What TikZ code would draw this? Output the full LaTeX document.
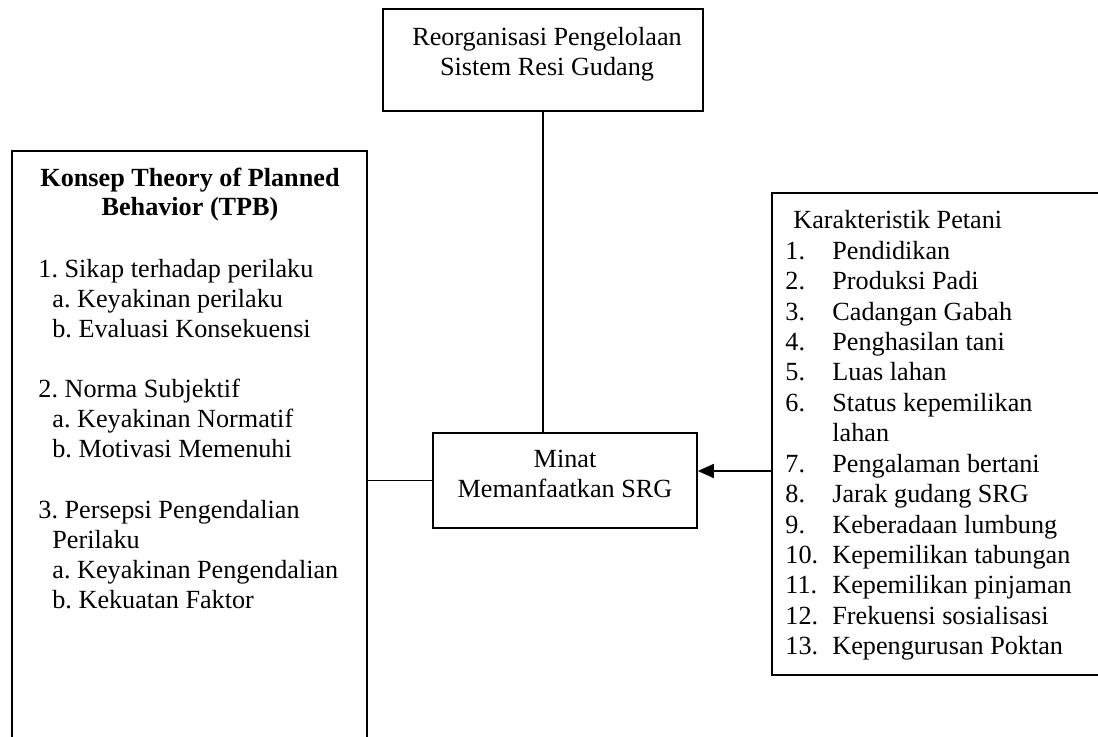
\documentclass[tikz,border=0pt]{standalone}
\usepackage{fontspec}
\setmainfont{Liberation Serif}
\usetikzlibrary{arrows.meta}
\frenchspacing
\begin{document}
\begin{tikzpicture}[x=0.5pt,y=-0.5pt,
  box/.style={draw,line width=0.85pt,rectangle,inner sep=0pt},
  txt/.style={inner sep=0pt,anchor=base west,font=\fontsize{13.1pt}{15.2pt}\selectfont},
  ctxt/.style={inner sep=0pt,anchor=base,font=\fontsize{13.1pt}{15.2pt}\selectfont},
  btxt/.style={inner sep=0pt,anchor=base,font=\fontsize{13.1pt}{15.2pt}\selectfont\bfseries},
  conn/.style={line width=0.85pt},
  arr/.style={line width=0.85pt,-{Triangle[length=8pt,width=7pt]}}]
\useasboundingbox (0,0) rectangle (1098,737);
\clip (0,0) rectangle (1098,737);
% boxes
\node[box,minimum width=160pt,minimum height=51pt] (top) at (543,60) {};
\node[box,minimum width=177.5pt,minimum height=309.5pt] (left) at (189.5,460.5) {};
\node[box,minimum width=132pt,minimum height=47.5pt] (mid) at (565,480.5) {};
\node[box,minimum width=174pt,minimum height=241pt] (right) at (946,434) {};
% top box text
\node[ctxt] (t1) at (547,46) {Reorganisasi Pengelolaan};
\node[ctxt] (t2) at (547,76) {Sistem Resi Gudang};
% middle box text
\node[ctxt] (m1) at (565,468) {Minat};
\node[ctxt] (m2) at (565,498) {Memanfaatkan SRG};
% left box text
\node[btxt] (l0) at (190,187) {Konsep Theory of Planned};
\node[btxt] (l00) at (190,216) {Behavior (TPB)};
\node[txt] (l1) at (38,278) {1. Sikap terhadap perilaku};
\node[txt] (l1a) at (52,308) {a. Keyakinan perilaku};
\node[txt] (l1b) at (52,338) {b. Evaluasi Konsekuensi};
\node[txt] (l2) at (38,398) {2. Norma Subjektif};
\node[txt] (l2a) at (52,428) {a. Keyakinan Normatif};
\node[txt] (l2b) at (52,458) {b. Motivasi Memenuhi};
\node[txt] (l3) at (38,518) {3. Persepsi Pengendalian};
\node[txt] (l3x) at (52,548) {Perilaku};
\node[txt] (l3a) at (52,578) {a. Keyakinan Pengendalian};
\node[txt] (l3b) at (52,608) {b. Kekuatan Faktor};
% right box text
\node[txt] (r0) at (793,229) {Karakteristik Petani};
\foreach \n/\t [count=\i from 1] in {1./Pendidikan,2./Produksi Padi,3./Cadangan Gabah,4./Penghasilan tani,5./Luas lahan,6./Status kepemilikan}{
  \node[txt] (rn\i) at (785,{229+30.4*\i}) {\n};
  \node[txt] (rt\i) at (832,{229+30.4*\i}) {\t};
}
\node[txt] (rlahan) at (832,{229+30.4*7}) {lahan};
\foreach \n/\t [count=\i from 8] in {7./Pengalaman bertani,8./Jarak gudang SRG,9./Keberadaan lumbung,10./Kepemilikan tabungan,11./Kepemilikan pinjaman,12./Frekuensi sosialisasi,13./Kepengurusan Poktan}{
  \node[txt] (rn\i) at (785,{229+30.4*\i}) {\n};
  \node[txt] (rt\i) at (832,{229+30.4*\i}) {\t};
}
% connectors
\coordinate (ay) at (0,471);
\draw[conn] (top.south) -- (top.south |- mid.north);
\draw[conn] (left.east |- mid.west) -- (mid.west);
\draw[arr] (right.west |- ay) -- (mid.east |- ay);
\end{tikzpicture}
\end{document}
